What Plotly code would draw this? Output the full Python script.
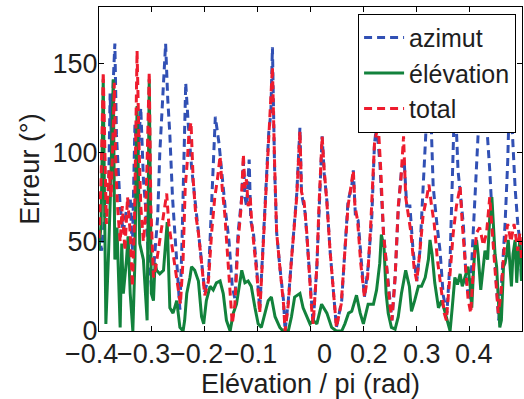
import plotly.graph_objects as go

# ---------------- data ----------------
azimut_x = [-0.400,-0.395,-0.389,-0.382,-0.379,-0.376,-0.373,-0.370,-0.367,-0.363,-0.360,-0.354,-0.348,-0.341,-0.337,-0.332,-0.327,-0.321,-0.316,-0.312,-0.307,-0.300,-0.295,-0.289,-0.285,-0.280,-0.274,-0.270,-0.266,-0.261,-0.256,-0.251,-0.247,-0.243,-0.239,-0.236,-0.231,-0.225,-0.219,-0.212,-0.206,-0.200,-0.193,-0.187,-0.180,-0.173,-0.167,-0.161,-0.154,-0.148,-0.143,-0.137,-0.130,-0.127,-0.124,-0.121,-0.116,-0.113,-0.108,-0.102,-0.096,-0.089,-0.083,-0.079,-0.075,-0.072,-0.068,-0.064,-0.058,-0.051,-0.048,-0.042,-0.036,-0.031,-0.026,-0.020,-0.017,-0.010,-0.004,0.002,0.005,0.012,0.018,0.022,0.026,0.031,0.037,0.043,0.049,0.059,0.065,0.071,0.078,0.081,0.085,0.090,0.097,0.102,0.109,0.116,0.121,0.125,0.131,0.138,0.144,0.150,0.154,0.160,0.166,0.172,0.177,0.182,0.188,0.194,0.201,0.207,0.213,0.218,0.223,0.228,0.232,0.239,0.245,0.251,0.258,0.264,0.268,0.273,0.279,0.285,0.289,0.295,0.302,0.306,0.312,0.317,0.322,0.330,0.336,0.339,0.344,0.349,0.352,0.356,0.361,0.368,0.373,0.377,0.382,0.387,0.392,0.396,0.399]
azimut_y = [55,45,65,75,133,100,140,161,110,85,70,55,68,75,45,116,95,125,85,70,45,22,40,64,100,130,161,130,110,75,50,30,12,50,100,139,115,92,75,55,40,22,30,70,120,105,85,68,50,25,18,55,75,95,75,70,96,62,55,36,12,51,83,111,122,159,92,55,36,17,0,17,40,58,77,114,77,66,40,13,4,36,77,109,88,73,45,23,2,17,45,73,81,90,64,62,36,19,36,64,105,115,95,55,36,17,6,30,68,90,96,70,70,45,28,45,81,110,165,110,81,60,45,20,10,40,90,135,90,70,60,25,17,45,80,110,165,130,105,90,62,40,28,6,25,60,95,140,110,80,60,50,30]

elevation_x = [-0.400,-0.396,-0.392,-0.387,-0.382,-0.378,-0.373,-0.370,-0.366,-0.360,-0.357,-0.354,-0.348,-0.345,-0.341,-0.336,-0.332,-0.328,-0.323,-0.316,-0.309,-0.305,-0.301,-0.297,-0.294,-0.291,-0.285,-0.278,-0.271,-0.266,-0.260,-0.253,-0.247,-0.241,-0.238,-0.234,-0.228,-0.225,-0.219,-0.212,-0.206,-0.202,-0.197,-0.190,-0.184,-0.178,-0.171,-0.165,-0.159,-0.152,-0.146,-0.140,-0.130,-0.124,-0.118,-0.112,-0.105,-0.099,-0.093,-0.086,-0.080,-0.074,-0.067,-0.058,-0.052,-0.042,-0.036,-0.030,-0.020,-0.014,-0.007,-0.001,0.005,0.012,0.021,0.031,0.040,0.049,0.059,0.065,0.072,0.078,0.087,0.094,0.100,0.109,0.119,0.125,0.131,0.134,0.139,0.143,0.147,0.153,0.160,0.166,0.172,0.180,0.187,0.191,0.197,0.204,0.210,0.217,0.223,0.226,0.230,0.235,0.242,0.248,0.254,0.261,0.264,0.268,0.273,0.278,0.283,0.287,0.292,0.298,0.302,0.305,0.308,0.311,0.314,0.317,0.322,0.327,0.330,0.335,0.339,0.343,0.346,0.349,0.352,0.355,0.358,0.361,0.365,0.368,0.371,0.374,0.377,0.380,0.383,0.387,0.390,0.393,0.396,0.399]
elevation_y = [45,60,141,4,43,80,141,40,58,2,49,21,40,53,21,0,40,126,49,40,6,141,21,17,38,34,32,34,61,13,10,17,2,0,6,21,30,36,34,28,8,4,17,25,23,27,28,21,6,0,10,15,34,27,28,25,13,4,2,11,17,19,8,2,0,0,8,19,21,13,8,4,6,4,15,10,2,0,0,4,10,11,20,10,4,15,15,23,38,54,47,21,10,2,1,8,21,34,25,11,17,25,25,30,40,51,43,27,13,17,11,4,0,13,30,26,32,25,30,36,25,13,32,47,51,43,23,36,45,40,64,75,58,43,36,21,2,6,36,38,43,51,36,25,43,51,27,43,51,28]

total_x = [-0.400,-0.396,-0.392,-0.389,-0.386,-0.381,-0.377,-0.373,-0.371,-0.368,-0.365,-0.360,-0.356,-0.351,-0.346,-0.341,-0.337,-0.333,-0.331,-0.328,-0.324,-0.321,-0.316,-0.312,-0.309,-0.305,-0.302,-0.297,-0.293,-0.288,-0.283,-0.277,-0.272,-0.268,-0.263,-0.258,-0.251,-0.246,-0.241,-0.237,-0.233,-0.230,-0.226,-0.222,-0.217,-0.212,-0.206,-0.200,-0.193,-0.187,-0.181,-0.176,-0.171,-0.167,-0.162,-0.157,-0.152,-0.148,-0.143,-0.137,-0.131,-0.127,-0.124,-0.121,-0.118,-0.114,-0.111,-0.106,-0.101,-0.096,-0.089,-0.083,-0.079,-0.076,-0.072,-0.068,-0.064,-0.058,-0.051,-0.048,-0.042,-0.036,-0.031,-0.026,-0.022,-0.020,-0.017,-0.012,-0.007,-0.003,0.002,0.005,0.012,0.016,0.020,0.022,0.026,0.031,0.037,0.043,0.049,0.058,0.065,0.071,0.076,0.081,0.084,0.089,0.095,0.102,0.108,0.114,0.121,0.128,0.133,0.138,0.144,0.150,0.154,0.160,0.166,0.171,0.176,0.180,0.185,0.190,0.196,0.201,0.207,0.213,0.220,0.224,0.229,0.234,0.240,0.247,0.253,0.257,0.264,0.270,0.276,0.283,0.287,0.292,0.298,0.303,0.308,0.314,0.320,0.327,0.333,0.339,0.344,0.349,0.355,0.360,0.366,0.373,0.379,0.385,0.392,0.396,0.399]
total_y = [52,85,145,95,60,90,75,115,139,90,70,50,70,45,75,55,25,60,110,157,100,70,50,65,95,145,70,30,35,45,55,66,77,60,50,40,25,15,40,80,95,110,117,85,65,55,38,20,28,55,75,85,98,80,65,45,20,4,15,50,70,99,80,85,70,75,60,45,30,10,50,80,110,120,148,95,55,36,15,0,15,40,60,75,100,112,78,72,55,35,13,4,36,70,95,109,90,72,45,23,2,15,45,70,80,90,70,62,38,19,30,60,105,116,90,55,36,15,6,30,70,85,109,75,65,55,35,28,45,65,75,82,70,60,40,25,10,6,30,55,70,81,60,40,18,10,35,55,58,48,55,75,55,35,10,20,45,60,50,60,45,55,40]

series_names = ["azimut", "élévation", "total"]
x_range = [-0.4, 0.4]
xtick_vals = [-0.4, -0.3, -0.2, -0.1, 0.0, 0.1, 0.2, 0.3, 0.4]
xtick_text = ["−0.4", "−0.3", "−0.2", "−0.1", "0", "0.2", "0.3", "0.4"]
xtick_text_pos = [-0.415, -0.316, -0.215, -0.114, 0.026, 0.110, 0.210, 0.310]
ytick_vals = [0, 50, 100, 150]
ytick_text = ["0", "50", "100", "150"]

FONT = "Liberation Sans, Arial, Helvetica, sans-serif"
TXT = "#1e1e1e"
BLUE = "#3150b4"
GREEN = "#12823c"
RED = "#ee1c2e"

fig = go.Figure()
fig.add_trace(go.Scatter(x=azimut_x, y=azimut_y, mode="lines", name=series_names[0],
                         line=dict(color=BLUE, width=3, dash="8px,5px")))
fig.add_trace(go.Scatter(x=elevation_x, y=elevation_y, mode="lines", name=series_names[1],
                         line=dict(color=GREEN, width=3)))
fig.add_trace(go.Scatter(x=total_x, y=total_y, mode="lines", name=series_names[2],
                         line=dict(color=RED, width=3, dash="8px,5px")))

# x tick labels drawn as text at their own positions (paper coords derived from data values)
span = x_range[1] - x_range[0]
annotations = []
for t, p in zip(xtick_text, xtick_text_pos):
    annotations.append(dict(x=(p - x_range[0]) / span, y=-0.072, xref="paper", yref="paper",
                            text=t, showarrow=False, xanchor="center", yanchor="middle",
                            font=dict(family=FONT, size=27, color=TXT)))

fig.update_layout(
    width=524, height=399,
    margin=dict(l=99, r=2, t=7, b=68, pad=0),
    paper_bgcolor="white", plot_bgcolor="white",
    font=dict(family=FONT, size=27, color=TXT),
    showlegend=True,
    legend=dict(x=0.986, y=0.979, xanchor="right", yanchor="top",
                bgcolor="white", bordercolor="black", borderwidth=1,
                font=dict(family=FONT, size=25, color=TXT),
                itemwidth=40, tracegroupgap=0),
    annotations=annotations,
    xaxis=dict(range=x_range, tickvals=xtick_vals, showticklabels=False,
               ticks="inside", ticklen=5, tickcolor="black", showline=True,
               linecolor="black", linewidth=1, mirror="ticks", showgrid=False,
               zeroline=False, automargin=False,
               title=dict(text="Elévation / pi (rad)", standoff=43,
                          font=dict(family=FONT, size=27, color=TXT))),
    yaxis=dict(range=[0, 181.5], tickvals=ytick_vals, ticktext=ytick_text,
               ticks="inside", ticklen=5, tickcolor="black", showline=True,
               linecolor="black", linewidth=1, mirror="ticks", showgrid=False,
               zeroline=False, automargin=False, ticklabelstandoff=-5,
               tickfont=dict(family=FONT, size=27, color=TXT),
               title=dict(text="Erreur (°)", standoff=5,
                          font=dict(family=FONT, size=27, color=TXT))),
)

fig.write_html("out.html", config={"displayModeBar": False},
               post_script="document.body.style.margin='0';")
